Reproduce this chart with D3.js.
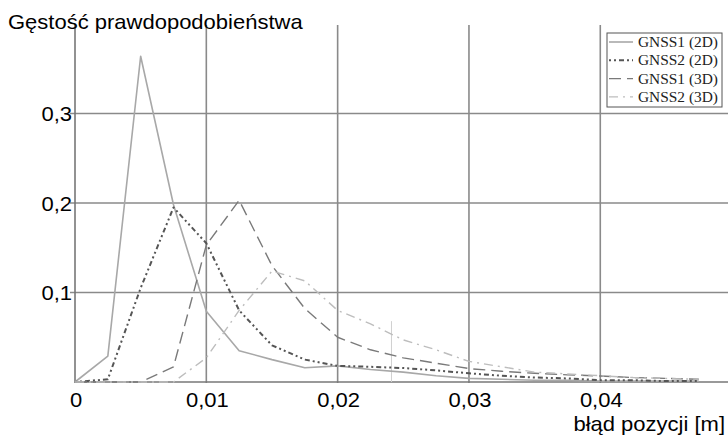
<!DOCTYPE html>
<html><head><meta charset="utf-8">
<script src="https://cdn.jsdelivr.net/npm/d3@7"></script>
<style>html,body{margin:0;padding:0;background:#fff;}svg{display:block;}</style>
</head><body>
<svg id="chart" width="728" height="438"></svg>
<script>
const xValues = [0,0.0025,0.005,0.0075,0.01,0.0125,0.015,0.0175,0.02,0.0225,0.025,0.0275,0.03,0.0325,0.035,0.0375,0.04,0.0425,0.045,0.0475];
const gnss1_2d = [0,0.029,0.364,0.198,0.079,0.035,0.025,0.016,0.018,0.014,0.011,0.007,0.004,0.003,0.002,0.002,0.001,0.001,0.001,0.001];
const gnss2_2d = [0,0.003,0.105,0.195,0.155,0.08,0.041,0.025,0.018,0.017,0.0156,0.013,0.0097,0.007,0.005,0.004,0.002,0.002,0.001,0.001];
const gnss1_3d = [0,0,0,0.017,0.153,0.203,0.13,0.082,0.05,0.036,0.027,0.021,0.015,0.012,0.0097,0.008,0.0067,0.005,0.004,0.003];
const gnss2_3d = [0,0,0,0,0.027,0.08,0.124,0.113,0.08,0.065,0.047,0.036,0.023,0.017,0.011,0.009,0.007,0.005,0.004,0.003];
const seriesNames = ["GNSS1 (2D)","GNSS2 (2D)","GNSS1 (3D)","GNSS2 (3D)"];
const xTicks = [0,0.01,0.02,0.03,0.04];
const yTicks = [0.1,0.2,0.3];
const yTickLabels = ["0,1","0,2","0,3"];
const xTickLabels = ["0","0,01","0,02","0,03","0,04"];
const yTitle = "Gęstość prawdopodobieństwa";
const xTitle = "błąd pozycji [m]";

const svg = d3.select("#chart");
const x = d3.scaleLinear().domain([0,0.05]).range([75,731.6]);
const y = d3.scaleLinear().domain([0,0.4]).range([382,24]);
const sx = 1.1;
const sans = "Liberation Sans, Arial, sans-serif";
const serif = "Liberation Serif, Times New Roman, serif";

// grid
const g = svg.append("g");
g.selectAll("line.hg").data(yTicks).join("line")
  .attr("x1",70).attr("x2",728).attr("y1",d=>y(d)).attr("y2",d=>y(d))
  .attr("stroke","#8a8a8a").attr("stroke-width",1.6);
g.selectAll("line.vg").data(xTicks.slice(1)).join("line")
  .attr("x1",d=>x(d)).attr("x2",d=>x(d)).attr("y1",y(0.4)+1).attr("y2",y(0)+1)
  .attr("stroke","#8a8a8a").attr("stroke-width",1.6);
// axes
g.append("line").attr("x1",x(0)).attr("x2",728).attr("y1",y(0)).attr("y2",y(0))
  .attr("stroke","#777").attr("stroke-width",1.6);
g.append("line").attr("x1",x(0)).attr("x2",x(0)).attr("y1",y(0.4)).attr("y2",y(0)+1)
  .attr("stroke","#777").attr("stroke-width",1.6);
// faint artifact line
g.append("line").attr("x1",x(0.0241)).attr("x2",x(0.0241)).attr("y1",y(0.068)).attr("y2",y(0))
  .attr("stroke","#d0d0d0").attr("stroke-width",1);

// tick labels
svg.selectAll("text.yt").data(yTicks).join("text")
  .attr("transform",d=>`translate(72,${y(d)+7.5}) scale(${sx},1)`)
  .attr("text-anchor","end").attr("font-family",sans).attr("font-size",20).attr("fill","#000")
  .text((d,i)=>yTickLabels[i]);
svg.selectAll("text.xt").data(xTicks).join("text")
  .attr("transform",d=>`translate(${x(d)+1},406.5) scale(${sx},1)`)
  .attr("text-anchor","middle").attr("font-family",sans).attr("font-size",20).attr("fill","#000")
  .text((d,i)=>xTickLabels[i]);
svg.append("text").attr("transform",`translate(8,29) scale(${sx},1)`)
  .attr("font-family",sans).attr("font-size",20).attr("fill","#000").text(yTitle);
svg.append("text").attr("transform",`translate(725,431) scale(${sx},1)`)
  .attr("text-anchor","end").attr("font-family",sans).attr("font-size",20).attr("fill","#000").text(xTitle);

// series
const styles = [
  {data:gnss1_2d, color:"#a8a8a8", width:1.6, dash:null},
  {data:gnss2_2d, color:"#555", width:2, dash:"2,3,2,3,5,3"},
  {data:gnss1_3d, color:"#7a7a7a", width:1.4, dash:"12,6"},
  {data:gnss2_3d, color:"#bdbdbd", width:1.4, dash:"9,5,2,5"}
];
const line = d3.line().x((d,i)=>x(xValues[i])).y(d=>y(d));
styles.forEach(s=>{
  svg.append("path").datum(s.data).attr("d",line)
    .attr("fill","none").attr("stroke",s.color).attr("stroke-width",s.width)
    .attr("stroke-dasharray",s.dash).attr("stroke-linejoin","round");
});

// legend
const lg = svg.append("g").attr("transform","translate(607,33)");
lg.append("rect").attr("x",0).attr("y",0).attr("width",115).attr("height",74)
  .attr("fill","#fff").attr("stroke","#555").attr("stroke-width",1);
seriesNames.forEach((n,i)=>{
  const yy = 9 + i*18.3;
  lg.append("line").attr("x1",2).attr("x2",26).attr("y1",yy).attr("y2",yy)
    .attr("stroke",styles[i].color).attr("stroke-width",styles[i].width)
    .attr("stroke-dasharray",styles[i].dash);
  lg.append("text").attr("transform",`translate(31,${yy+5}) scale(${sx},1)`)
    .attr("font-family",serif).attr("font-size",14).attr("fill","#222").text(n);
});
</script>
</body></html>
